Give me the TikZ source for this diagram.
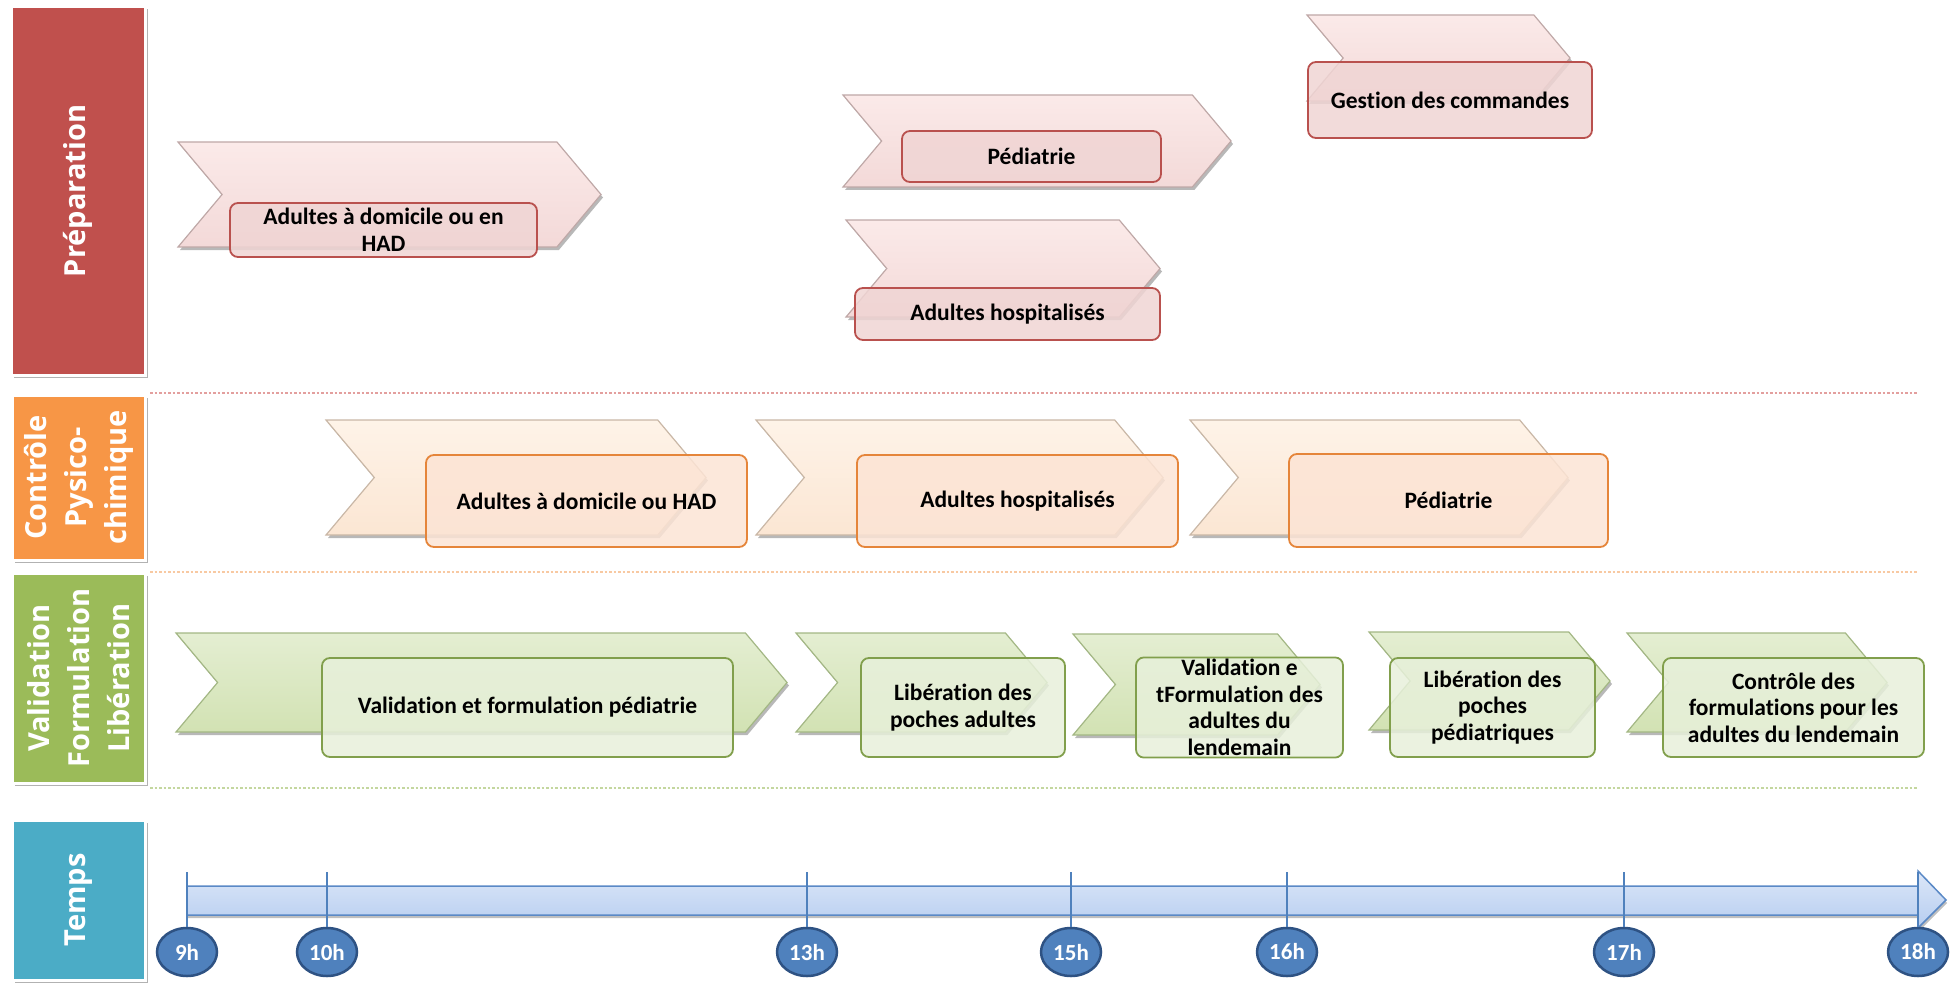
\documentclass[tikz,border=0pt]{standalone}
\usepackage{fontspec}
\setmainfont{Carlito}[Ligatures=NoCommon]
\newfontfamily\labfont{Open Sans}
\usetikzlibrary{shapes.geometric,shadows}
\definecolor{prepred}{HTML}{C0504D}
\definecolor{ctrlorange}{HTML}{F79646}
\definecolor{valgreen}{HTML}{9BBB59}
\definecolor{tempteal}{HTML}{4BACC6}
\definecolor{pchA}{HTML}{FBEAE9}
\definecolor{pchB}{HTML}{F3D9D8}
\definecolor{pedge}{HTML}{BFA8A7}
\definecolor{pboxfill}{HTML}{F0D5D4}
\definecolor{pboxline}{HTML}{B9514E}
\definecolor{ochA}{HTML}{FEF3E8}
\definecolor{ochB}{HTML}{FBE6D3}
\definecolor{oedge}{HTML}{C9B7A6}
\definecolor{oboxfill}{HTML}{FCE4D5}
\definecolor{oboxline}{HTML}{E5853A}
\definecolor{gchA}{HTML}{E4EED2}
\definecolor{gchB}{HTML}{D2E2B3}
\definecolor{gedge}{HTML}{A3B784}
\definecolor{gboxfill}{HTML}{E7F0DA}
\definecolor{gboxline}{HTML}{819F4C}
\definecolor{sepr}{HTML}{E39F9E}
\definecolor{sepo}{HTML}{F8C9A2}
\definecolor{sepg}{HTML}{C4D79F}
\definecolor{barA}{HTML}{DCE7F8}
\definecolor{barB}{HTML}{B6CDF0}
\definecolor{barline}{HTML}{5A89C6}
\definecolor{circfill}{HTML}{4F81BD}
\definecolor{circline}{HTML}{2E5283}
\newcommand\boxfont{\bfseries\fontsize{23.5}{26.5}\selectfont}
\newcommand\chev[5]{%
  \pgfmathsetmacro\chm{(#3+#5)/2}%
  \pgfmathsetmacro\chd{0.42*(#5-#3)}%
  \pgfmathsetmacro\chl{#2+\chd}%
  \pgfmathsetmacro\chr{#4-\chd}%
  \path[#1] (#2,#3) -- (\chr,#3) -- (#4,\chm) -- (\chr,#5) -- (#2,#5) -- (\chl,\chm) -- cycle;}
\tikzset{
  panel/.style={draw=white, line width=3, drop shadow={shadow xshift=2.5pt, shadow yshift=-2.5pt, opacity=.3, fill=black}},
  plabel/.style={text=white, rotate=90, align=center, font=\labfont\bfseries\fontsize{29}{40}\selectfont},
  chevbase/.style={line width=1.2, drop shadow={shadow xshift=2pt, shadow yshift=-3pt, opacity=.28, fill=black}},
  pchev/.style={chevbase, draw=pedge, top color=pchA, bottom color=pchB},
  ochev/.style={chevbase, draw=oedge, top color=ochA, bottom color=ochB},
  gchev/.style={chevbase, draw=gedge, top color=gchA, bottom color=gchB},
  boxbase/.style={rounded corners=8, line width=1.8, fill opacity=.85, text opacity=1, align=center, inner sep=2, font=\boxfont, text=black},
  pbox/.style={boxbase, draw=pboxline, fill=pboxfill},
  obox/.style={boxbase, draw=oboxline, fill=oboxfill},
  gbox/.style={boxbase, draw=gboxline, fill=gboxfill},
  sep/.style={line width=1.4, dash pattern=on 2.5pt off 2pt},
  tick/.style={draw=circfill, line width=1.3},
  hour/.style={ellipse, minimum width=60, minimum height=48, inner sep=0, fill=circfill, draw=circline, line width=2.5, text=white, font=\bfseries\fontsize{23}{24}\selectfont}
}
\begin{document}
\begin{tikzpicture}[x=1pt, y=-1pt]
\useasboundingbox (0,0) rectangle (1950,987);
% left panels
\node[panel, fill=prepred, minimum width=134, minimum height=368] (prep) at (78,191) {};
\node[panel, fill=ctrlorange, minimum width=133, minimum height=165] (ctrl) at (78.5,477.5) {};
\node[panel, fill=valgreen, minimum width=133, minimum height=210] (valid) at (78.5,678) {};
\node[panel, fill=tempteal, minimum width=133, minimum height=160] (temps) at (78.5,900) {};
\node[plabel] (prepl) at (prep.center) {Préparation};
\node[plabel] (ctrll) at (ctrl.center) {Contrôle\\Pysico-\\chimique};
\node[plabel] (validl) at (valid.center) {Validation\\Formulation\\Libération};
\node[plabel] (tempsl) at (temps.center) {Temps};
% separators
\coordinate (sr0) at (150,393); \coordinate (sr1) at (1917,393);
\coordinate (so0) at (150,572); \coordinate (so1) at (1917,572);
\coordinate (sg0) at (150,788); \coordinate (sg1) at (1917,788);
\draw[sep, sepr] (sr0) -- (sr1);
\draw[sep, sepo] (so0) -- (so1);
\draw[sep, sepg] (sg0) -- (sg1);
% preparation row
\chev{pchev}{178}{142}{601}{247}
\chev{pchev}{843}{95}{1231}{187}
\chev{pchev}{846}{220}{1160}{317}
\chev{pchev}{1307}{15}{1570}{101}
\node[pbox, minimum width=307, minimum height=54] (pb1) at (383.5,230) {Adultes à domicile ou en\\HAD};
\node[pbox, minimum width=259, minimum height=51] (pb2) at (1031.5,156.5) {Pédiatrie};
\node[pbox, minimum width=305, minimum height=52] (pb3) at (1007.5,314) {Adultes hospitalisés};
\node[pbox, minimum width=284, minimum height=76] (pb4) at (1450,100) {Gestion des commandes};
% controle row
\chev{ochev}{326}{420}{706}{535}
\chev{ochev}{756}{420}{1163}{535}
\chev{ochev}{1190}{420}{1568}{535}
\node[obox, minimum width=321, minimum height=92] (ob1) at (586.5,501) {Adultes à domicile ou HAD};
\node[obox, minimum width=321, minimum height=92] (ob2) at (1017.5,501) {Adultes hospitalisés};
\node[obox, minimum width=319, minimum height=93] (ob3) at (1448.5,500.5) {Pédiatrie};
% validation row
\chev{gchev}{176}{633}{787}{732}
\chev{gchev}{796}{633}{1047}{732}
\chev{gchev}{1073}{634}{1320}{735}
\chev{gchev}{1369}{632}{1610}{730}
\chev{gchev}{1627}{633}{1887}{732}
\node[gbox, minimum width=411, minimum height=99] (gb1) at (527.5,707.5) {Validation et formulation pédiatrie};
\node[gbox, minimum width=204, minimum height=99] (gb2) at (963,707.5) {Libération des\\poches adultes};
\node[gbox, minimum width=207, minimum height=99] (gb3) at (1239.5,707.5) {Validation e\\tFormulation des\\adultes du\\lendemain};
\node[gbox, minimum width=205, minimum height=99] (gb4) at (1492.5,707.5) {Libération des\\poches\\pédiatriques};
\node[gbox, minimum width=261, minimum height=99] (gb5) at (1793.5,707.5) {Contrôle des\\formulations pour les\\adultes du lendemain};
% timeline bar
\path[draw=barline, line width=1.5, top color=barA, bottom color=barB,
      drop shadow={shadow xshift=1pt, shadow yshift=-3pt, opacity=.25, fill=black}]
  (187,886) -- (1918,886) -- (1918,871) -- (1946,900) -- (1918,928) -- (1918,915) -- (187,915) -- cycle;
% hours
\node[hour] (h9) at (187,952) {9h};
\node[hour] (h10) at (327,952) {10h};
\node[hour] (h13) at (807,952) {13h};
\node[hour] (h15) at (1071,952) {15h};
\node[hour] (h16) at (1287,952) {16h};
\node[hour] (h17) at (1624,952) {17h};
\node[hour] (h18) at (1918,952) {18h};
\foreach \n/\x in {9/187,10/327,13/807,15/1071,16/1287,17/1624,18/1918}{
  \coordinate (t\n) at (\x,872);
  \draw[tick] (t\n) -- (h\n);
}
\end{tikzpicture}
\end{document}
